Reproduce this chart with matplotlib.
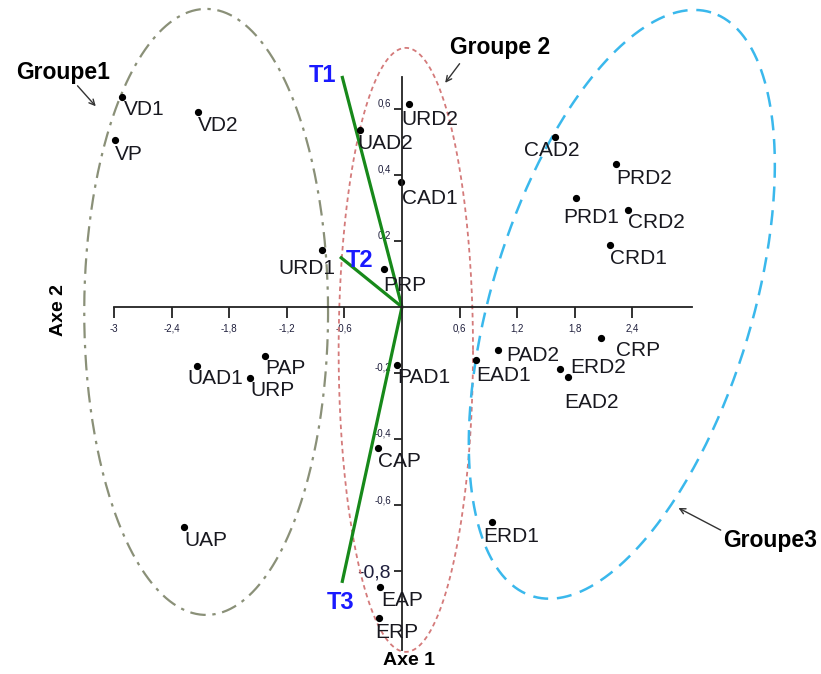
import numpy as np
import matplotlib
matplotlib.use("Agg")
import matplotlib.pyplot as plt

plt.rcParams['font.family'] = ['Liberation Sans', 'DejaVu Sans']

# individuals on the first factorial plane (Axe 1, Axe 2)
names = ["VD1", "VD2", "VP", "URD2", "UAD2", "CAD1", "CAD2", "PRD2", "PRD1",
         "CRD2", "CRD1", "URD1", "PRP", "PAP", "UAD1", "URP", "PAD1", "EAD1",
         "PAD2", "CRP", "ERD2", "EAD2", "CAP", "UAP", "ERD1", "EAP", "ERP"]
axe1 = [-2.92, -2.125, -2.99, 0.073, -0.44, -0.01, 1.59, 2.23, 1.81,
        2.35, 2.17, -0.83, -0.19, -1.43, -2.135, -1.58, -0.05, 0.77,
        1.0, 2.07, 1.65, 1.73, -0.25, -2.27, 0.94, -0.23, -0.24]
axe2 = [0.636, 0.59, 0.506, 0.615, 0.536, 0.379, 0.515, 0.433, 0.33,
        0.294, 0.188, 0.173, 0.115, -0.148, -0.179, -0.215, -0.176, -0.161,
        -0.13, -0.094, -0.188, -0.212, -0.427, -0.667, -0.652, -0.848, -0.942]

# supplementary variables (vectors from the origin)
var_names = ["T1", "T2", "T3"]
var_x = [-0.625, -0.646, -0.625]
var_y = [0.70, 0.152, -0.836]

xticks = [-3, -2.4, -1.8, -1.2, -0.6, 0.6, 1.2, 1.8, 2.4]
yticks = [0.6, 0.4, 0.2, -0.2, -0.4, -0.6, -0.8]

# label offsets in pixels (dx, dy) from each point
offs = {"VD1": (2, -3), "VD2": (0, -4), "VP": (0, -5), "URD2": (-8, -6),
        "UAD2": (-2, -4), "CAD1": (1, -7), "CAD2": (-31, -4), "PRD2": (0, -5),
        "PRD1": (-12, -10), "CRD2": (0, -3), "CRD1": (0, -4), "URD1": (-44, -9),
        "PRP": (0, -7), "PAP": (1, -3), "UAD1": (-10, -3), "URP": (0, -3),
        "PAD1": (0, -3), "EAD1": (0, -6), "PAD2": (8, 4), "CRP": (15, -3),
        "ERD2": (10, 11), "EAD2": (-4, -16), "CAP": (0, -4), "UAP": (0, -4),
        "ERD1": (-9, -5), "EAP": (1, -4), "ERP": (-4, -5)}

W, H = 821, 674
fig = plt.figure(figsize=(W / 100, H / 100), dpi=100)
ax = fig.add_axes([0, 0, 1, 1])
xlim = (-4.1875, 4.365)
ylim = (-1.112, 0.930)
ax.set_xlim(*xlim)
ax.set_ylim(*ylim)

# pixel aspect between y and x data units
k = (H / (ylim[1] - ylim[0])) / (W / (xlim[1] - xlim[0]))


def ellipse(cx, cy, a, b, angle=0.0):
    # a, b in x-units, angle in screen degrees
    t = np.linspace(0, 2 * np.pi, 400)
    th = np.radians(angle)
    u = a * np.cos(t)
    v = b * np.sin(t)
    xr = u * np.cos(th) - v * np.sin(th)
    yr = u * np.sin(th) + v * np.cos(th)
    return cx + xr, cy + yr / k


ex, ey = ellipse(-2.04, -0.015, 1.27, 0.918 * k)
ax.plot(ex, ey, color='#8a9078', lw=1.6, dashes=(7, 3, 1.5, 3))
ex, ey = ellipse(0.04, -0.13, 0.70, 0.915 * k)
ax.plot(ex, ey, color='#d47a7a', lw=1.3, dashes=(2.5, 2))
ex, ey = ellipse(2.29, 0.008, 3.18, 1.354, 73)
ax.plot(ex, ey, color='#3ab8ec', lw=1.8, dashes=(6, 3.5))

# axes crossing at the origin
for s in ['top', 'right']:
    ax.spines[s].set_visible(False)
ax.spines['left'].set_position(('data', 0))
ax.spines['bottom'].set_position(('data', 0))
ax.spines['left'].set_bounds(-1.039, 0.697)
ax.spines['bottom'].set_bounds(-3.0, 3.02)
for s in ['left', 'bottom']:
    ax.spines[s].set_linewidth(1.3)
    ax.spines[s].set_color('#222222')

ax.set_xticks(xticks)
ax.set_xticklabels([f"{v:g}".replace('.', ',') for v in xticks])
ax.set_yticks(yticks)
ax.set_yticklabels([f"{v:g}".replace('.', ',') for v in yticks])
ax.tick_params(axis='x', direction='out', length=8, width=1.3, pad=4,
               labelsize=7, labelcolor='#1e1e3c', color='#222222')
ax.tick_params(axis='y', direction='out', length=6, width=1.3, pad=2,
               labelsize=7, labelcolor='#1e1e3c', color='#222222')
for lab, v in zip(ax.get_yticklabels(), yticks):
    if v == -0.8:
        lab.set_fontsize(14)
    else:
        lab.set_verticalalignment('bottom')

# vectors
for n, vx, vy in zip(var_names, var_x, var_y):
    ax.plot([0, vx], [0, vy], color='#17891a', lw=2.3, solid_capstyle='butt')
tpos = [(-0.2, 0.0), (0.2, -0.01), (-0.02, -0.06)]
for n, vx, vy, (dx, dy) in zip(var_names, var_x, var_y, tpos):
    ax.text(vx + dx, vy + dy, n, color='#1a1aff', fontsize=17,
            fontweight='bold', ha='center', va='center')

# points and labels
ax.plot(axe1, axe2, 'o', color='black', ms=4.2, ls='none')
for n, x, y in zip(names, axe1, axe2):
    dx, dy = offs[n]
    ax.annotate(n, (x, y), xytext=(dx, dy), textcoords='offset pixels',
                ha='left', va='top', fontsize=15, color='#18181f')

# group labels with arrows
arrow = dict(arrowstyle='->', color='#333333', lw=1.0, shrinkA=0, shrinkB=0)
ax.text(-3.53, 0.711, "Groupe1", ha='center', va='center', fontsize=16.5,
        fontweight='bold')
ax.annotate("", xy=(-3.19, 0.608), xytext=(-3.38, 0.67), arrowprops=arrow)
ax.text(1.02, 0.785, "Groupe 2", ha='center', va='center', fontsize=16.5,
        fontweight='bold')
ax.annotate("", xy=(0.45, 0.679), xytext=(0.60, 0.737), arrowprops=arrow)
ax.text(3.83, -0.709, "Groupe3", ha='center', va='center', fontsize=16.5,
        fontweight='bold')
ax.annotate("", xy=(2.88, -0.609), xytext=(3.32, -0.676), arrowprops=arrow)

ax.text(0.07, -1.07, "Axe 1", ha='center', va='center', fontsize=14,
        fontweight='bold')
ax.text(-3.58, -0.01, "Axe 2", ha='center', va='center', fontsize=14,
        fontweight='bold', rotation=90)

fig.savefig("out.png", dpi=100)
